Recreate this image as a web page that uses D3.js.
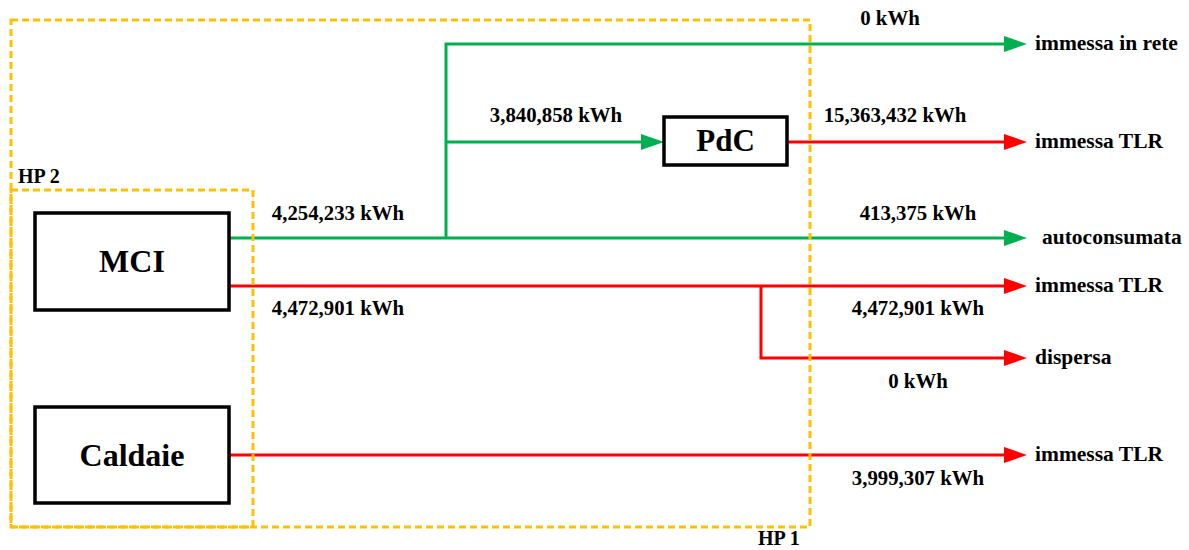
<!DOCTYPE html>
<html>
<head>
<meta charset="utf-8">
<title>HP flows</title>
<script src="https://cdn.jsdelivr.net/npm/d3@7"></script>
<style>
  body { margin: 0; background: #fff; }
  text { font-family: "Palatino Linotype", "Book Antiqua", Palatino, "Liberation Serif", serif; font-weight: bold; fill: #000; }
</style>
</head>
<body>
<div id="chart"></div>
<script>
// data
var units = ["MCI", "Caldaie", "PdC"];
var boundaries = ["HP 1", "HP 2"];
var outputs = ["immessa in rete", "immessa TLR", "autoconsumata", "immessa TLR", "dispersa", "immessa TLR"];
var outputValues = [0, 15363432, 413375, 4472901, 0, 3999307];
var outputKind = ["el", "th", "el", "th", "th", "th"];
var mciElectric = 4254233;
var mciThermal = 4472901;
var toPdC = 3840858;

var W = 1189, H = 550;
var green = "#00B050", red = "#FF0000", yellow = "#FFC000";
var fmt = function(v) { return d3.format(",")(v) + " kWh"; };

// rows of the right-hand outputs (pixel rows of the layout)
var y = d3.scaleOrdinal().domain(d3.range(6)).range([44, 142, 238, 286, 358, 455]);
var xTip = 1027, xBase = 1004, xLabel = 1035;

var svg = d3.select("#chart").append("svg").attr("width", W).attr("height", H);

// boxes
var box = {
  "MCI": {x: 35, y: 213, w: 194, h: 97, fs: 32},
  "Caldaie": {x: 35, y: 407, w: 194, h: 96, fs: 32},
  "PdC": {x: 664, y: 117, w: 123, h: 48, fs: 31}
};

function line(pts, col) {
  svg.append("path")
    .attr("d", d3.line()(pts))
    .attr("fill", "none")
    .attr("stroke", col)
    .attr("stroke-width", 3);
}
function head(xt, yy, col) {
  svg.append("path")
    .attr("d", d3.line()([[xt, yy], [xt - 23, yy - 8], [xt - 23, yy + 8]]) + "Z")
    .attr("fill", col);
}
function label(t, x, yy, anchor, size) {
  svg.append("text")
    .attr("x", x).attr("y", yy)
    .attr("text-anchor", anchor || "middle")
    .attr("font-size", size || 20.8)
    .text(t);
}

// electric flows
var xSplit = 446;
line([[229, y(2)], [xBase, y(2)]], green);
line([[xSplit, y(2)], [xSplit, y(0)], [xBase, y(0)]], green);
line([[xSplit, y(1)], [box.PdC.x - 22, y(1)]], green);
head(box.PdC.x, y(1), green);

// thermal flows
var xDisp = 761;
line([[box.PdC.x + box.PdC.w, y(1)], [xBase, y(1)]], red);
line([[229, y(3)], [xBase, y(3)]], red);
line([[xDisp, y(3)], [xDisp, y(4)], [xBase, y(4)]], red);
line([[229, y(5)], [xBase, y(5)]], red);

outputs.forEach(function(o, i) {
  var col = outputKind[i] == "el" ? green : red;
  head(xTip, y(i), col);
  svg.append("text")
    .attr("x", i == 2 ? xLabel + 7 : xLabel)
    .attr("y", y(i) + 6)
    .attr("font-size", 21.5)
    .text(o);
});

// value labels
var valPos = [[890, -19], [895, -20], [918, -18], [918, 29], [918, 30], [918, 30]];
outputValues.forEach(function(v, i) {
  label(fmt(v), valPos[i][0], y(i) + valPos[i][1]);
});
label(fmt(toPdC), 556, y(1) - 20);
label(fmt(mciElectric), 338, y(2) - 18);
label(fmt(mciThermal), 338, y(3) + 29);

// unit boxes
units.forEach(function(u) {
  var b = box[u];
  svg.append("rect")
    .attr("x", b.x).attr("y", b.y).attr("width", b.w).attr("height", b.h)
    .attr("fill", "#fff").attr("stroke", "#000").attr("stroke-width", 3.5);
  label(u, b.x + b.w / 2, b.y + b.h / 2 + b.fs * 0.33, "middle", b.fs);
});

// HP boundaries
var bounds = {
  "HP 1": {x: 11, y: 20, w: 799, h: 507, lx: 758, ly: 545},
  "HP 2": {x: 11, y: 190, w: 242, h: 337, lx: 18, ly: 183}
};
boundaries.forEach(function(b) {
  var r = bounds[b];
  svg.append("rect")
    .attr("x", r.x).attr("y", r.y).attr("width", r.w).attr("height", r.h)
    .attr("fill", "none").attr("stroke", yellow).attr("stroke-width", 3)
    .attr("stroke-dasharray", "7,4");
  label(b, r.lx, r.ly, "start", 20);
});
</script>
</body>
</html>
